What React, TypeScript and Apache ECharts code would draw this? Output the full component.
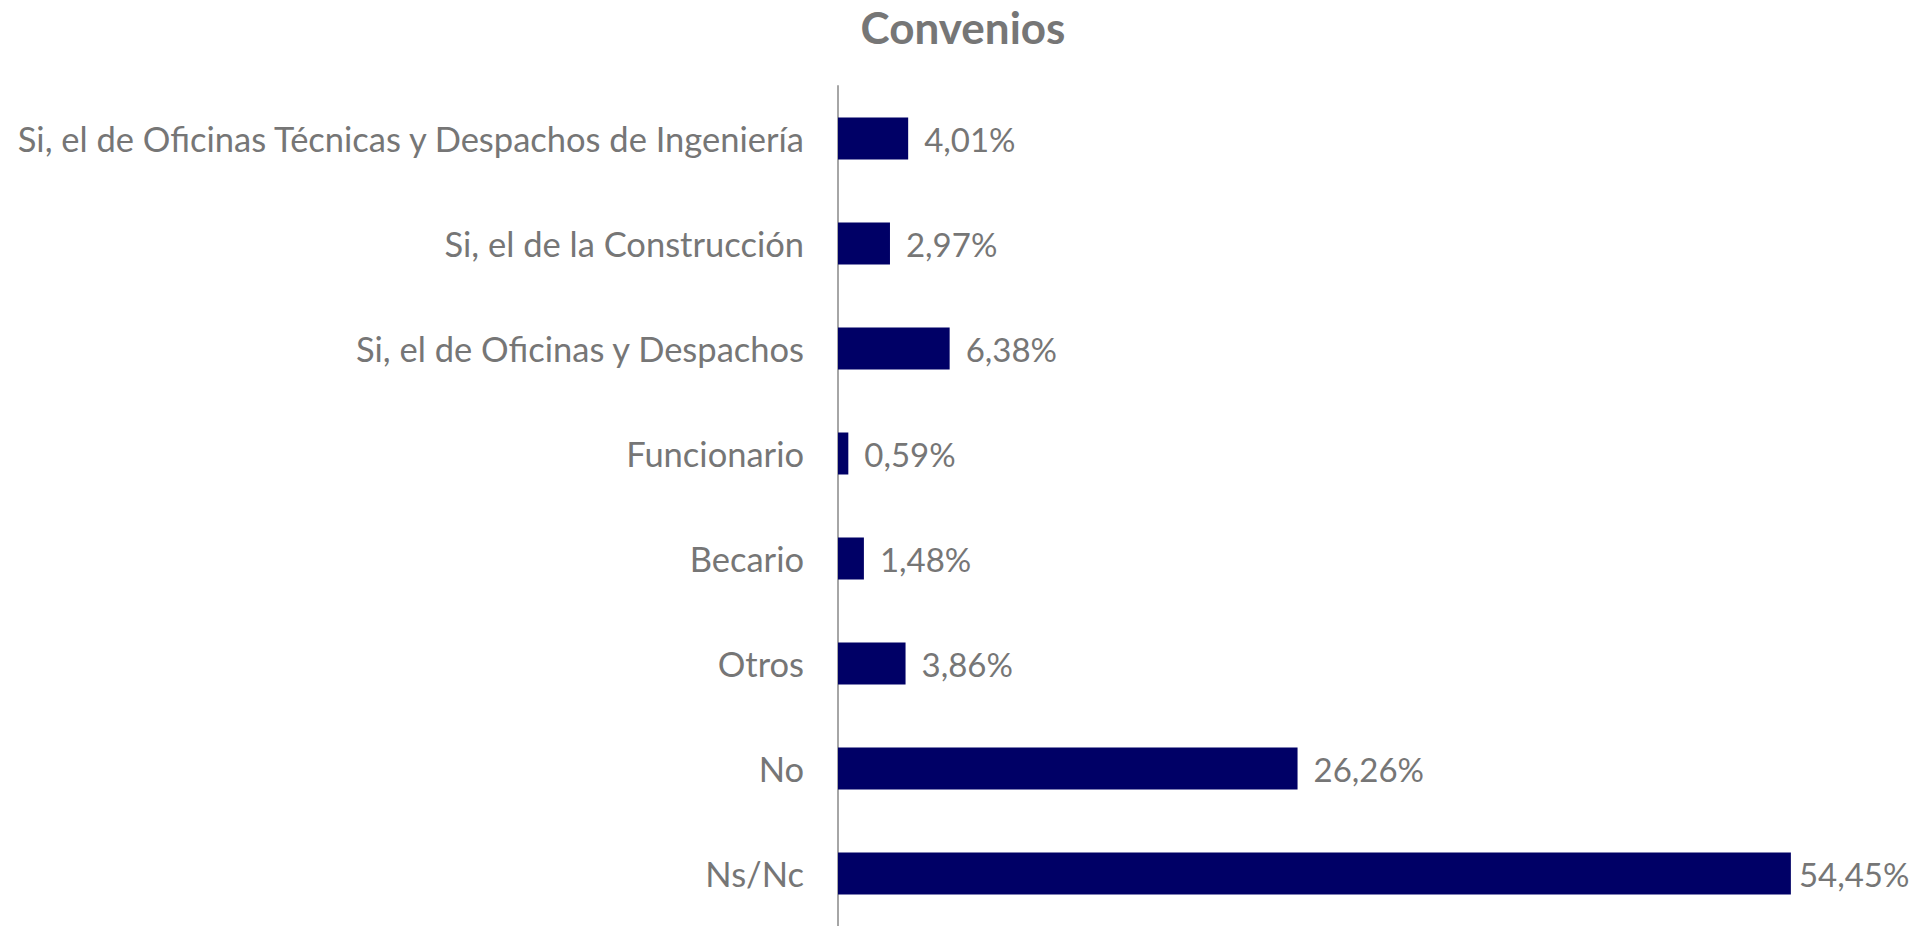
import React, { useEffect, useRef } from "react";
import * as echarts from "echarts";

const titleText = "Convenios";
const categories = [
  "Si, el de Oficinas Técnicas y Despachos de Ingeniería",
  "Si, el de la Construcción",
  "Si, el de Oficinas y Despachos",
  "Funcionario",
  "Becario",
  "Otros",
  "No",
  "Ns/Nc",
];
const values = [4.01, 2.97, 6.38, 0.59, 1.48, 3.86, 26.26, 54.45];

const FONT = "Lato, 'Open Sans', sans-serif";
const GRAY = "#767676";

export default function App() {
  const ref = useRef<HTMLDivElement>(null);
  useEffect(() => {
    if (!ref.current) return;
    const chart = echarts.init(ref.current, null, { renderer: "svg" });
    const maxVal = Math.max(...values);
    chart.setOption({
      animation: false,
      backgroundColor: "#ffffff",
      title: {
        text: titleText,
        left: 958,
        top: 0,
        textAlign: "center",
        textStyle: { fontFamily: FONT, fontSize: 44, fontWeight: "bold", color: GRAY },
      },
      grid: { left: 838, top: 86, width: 1050, height: 842, containLabel: false },
      xAxis: {
        type: "value",
        min: 0,
        max: 60,
        show: false,
      },
      yAxis: {
        type: "category",
        data: categories,
        inverse: true,
        axisLine: { show: true, lineStyle: { color: "#a6a6a6", width: 2 } },
        axisTick: { show: false },
        axisLabel: { fontFamily: FONT, fontSize: 34.5, color: GRAY, margin: 34 },
        splitLine: { show: false },
      },
      series: [
        {
          type: "bar",
          data: values.map((v) =>
            v === maxVal ? { value: v, label: { distance: 8 } } : v
          ),
          barWidth: "40%",
          itemStyle: { color: "#000066" },
          label: {
            show: true,
            position: "right",
            distance: 16,
            fontFamily: FONT,
            fontSize: 33,
            color: GRAY,
            formatter: (p: any) => Number(p.value).toFixed(2).replace(".", ",") + "%",
          },
        },
      ],
    });
    return () => chart.dispose();
  }, []);
  return (
    <div
      ref={ref}
      style={{ position: "fixed", left: 0, top: 0, width: 1930, height: 926 }}
    />
  );
}
